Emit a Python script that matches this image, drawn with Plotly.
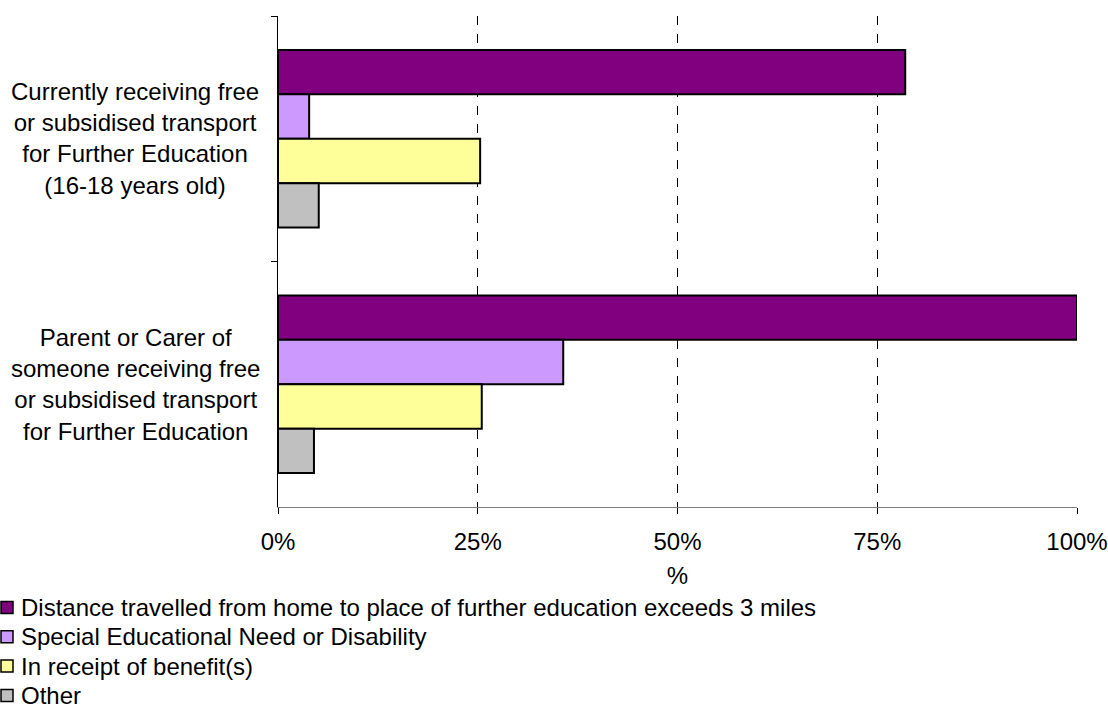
import plotly.graph_objects as go

categories = [
    "Currently receiving free<br>or subsidised transport<br>for Further Education<br>(16-18 years old)",
    "Parent or Carer of<br>someone receiving free<br>or subsidised transport<br>for Further Education",
]
series_names = [
    "Distance travelled from home to place of further education exceeds 3 miles",
    "Special Educational Need or Disability",
    "In receipt of benefit(s)",
    "Other",
]
distance = [78.5, 100.0]
sen = [3.9, 35.7]
benefit = [25.3, 25.5]
other = [5.1, 4.5]
series_values = [distance, sen, benefit, other]
colors = ["#800080", "#CC99FF", "#FFFF99", "#C0C0C0"]
x_ticks = [0, 25, 50, 75, 100]
x_ticklabels = ["0%", "25%", "50%", "75%", "100%"]

FONT = "Liberation Sans, Arial, sans-serif"
W, H = 1108, 709
ML, MR, MT, MB = 278, 31, 16, 202
PW, PH = W - ML - MR, H - MT - MB

fig = go.Figure()
for name, vals, col in zip(series_names, series_values, colors):
    fig.add_trace(go.Bar(
        y=categories, x=vals, name=name, orientation="h",
        marker=dict(color=col, line=dict(color="black", width=2)),
        showlegend=False,
    ))

fig.update_layout(
    width=W, height=H,
    margin=dict(l=ML, r=MR, t=MT, b=MB, autoexpand=False),
    paper_bgcolor="white", plot_bgcolor="white",
    barmode="group", bargap=0.276, bargroupgap=0,
    font=dict(family=FONT, size=24, color="black"),
)
fig.update_xaxes(
    range=[0, 100], tickvals=x_ticks, ticktext=x_ticklabels,
    showgrid=True, gridcolor="black", griddash="dash", gridwidth=1,
    zeroline=False, showline=True, linecolor="#808080", linewidth=1,
    ticks="outside", ticklen=6, tickcolor="black",
    ticklabelstandoff=7,
    tickfont=dict(size=24),
    title=dict(text="%", font=dict(size=24), standoff=13),
    automargin=False,
)
fig.update_yaxes(
    range=[1.5, -0.5], showticklabels=False, tickson="boundaries",
    ticks="outside", ticklen=6, tickcolor="black",
    showline=True, linecolor="black", linewidth=1, showgrid=False,
    zeroline=False, automargin=False,
)

# category labels, centred
for cat in categories:
    fig.add_annotation(
        x=(135 - ML) / PW, xref="paper", y=cat, yref="y",
        text=cat, showarrow=False, xanchor="center", yanchor="middle",
        align="center", font=dict(size=24, family=FONT),
    )

# legend (manual, to match compact spacing)
for i, (name, col) in enumerate(zip(series_names, colors)):
    ypx = 607.5 + i * 29.3
    yp = (H - MB - ypx) / PH
    fig.add_shape(
        type="rect", xref="paper", yref="paper",
        x0=(1 - ML) / PW, x1=(13 - ML) / PW,
        y0=yp - 6 / PH, y1=yp + 6 / PH,
        fillcolor=col, line=dict(color="black", width=1.5),
    )
    fig.add_annotation(
        x=(19 - ML) / PW, xref="paper", y=yp, yref="paper",
        text=name, showarrow=False, xanchor="left", yanchor="middle",
        font=dict(size=24, family=FONT),
    )

fig.write_html(
    "out.html",
    config={"displayModeBar": False},
    post_script="document.body.style.margin='0';document.body.style.overflow='hidden';",
)
